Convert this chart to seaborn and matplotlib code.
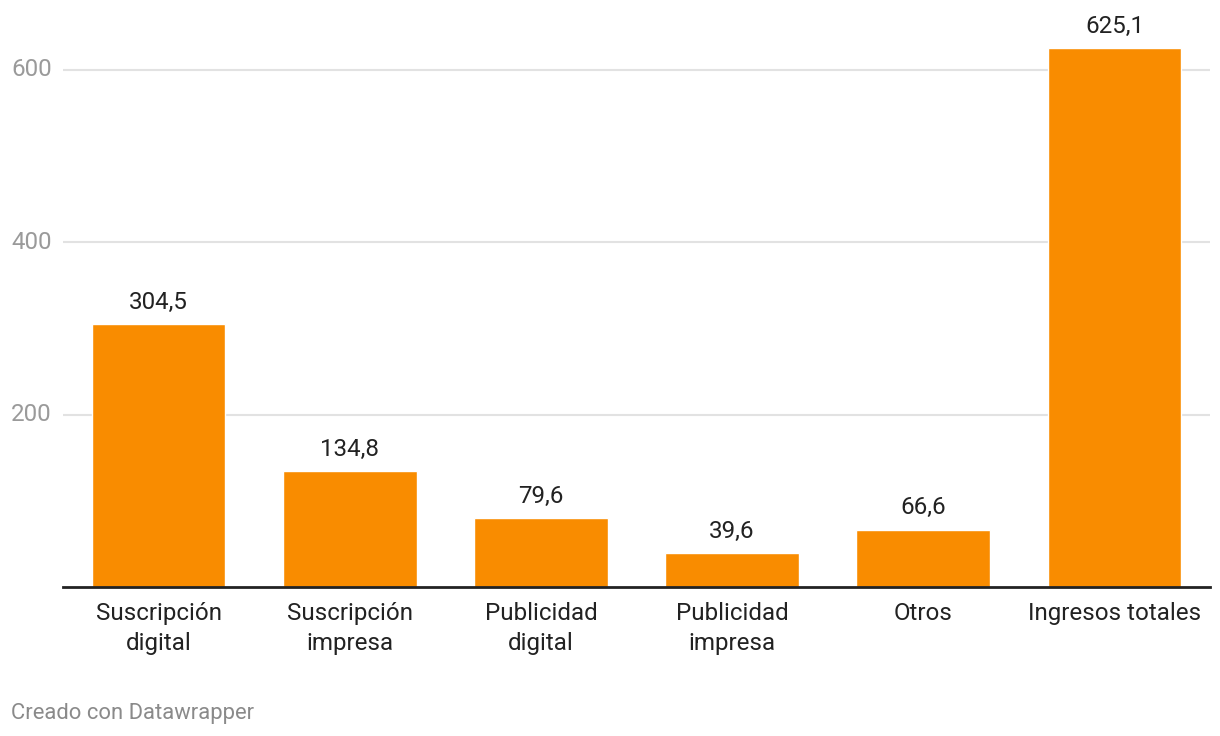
import matplotlib
matplotlib.use("Agg")
import matplotlib.pyplot as plt
import matplotlib.transforms as mtransforms
import seaborn as sns
import pandas as pd

categories = ["Suscripción\ndigital", "Suscripción\nimpresa", "Publicidad\ndigital",
              "Publicidad\nimpresa", "Otros", "Ingresos totales"]
values = [304.5, 134.8, 79.6, 39.6, 66.6, 625.1]
value_labels = ["304,5", "134,8", "79,6", "39,6", "66,6", "625,1"]
yticks = [200, 400, 600]
ytick_labels = ["200", "400", "600"]

sns.set_theme(style="white")
plt.rcParams['font.family'] = ['Roboto', 'DejaVu Sans']

W, H = 1220, 736
fig = plt.figure(figsize=(W / 100, H / 100), dpi=100)
ax = fig.add_axes([63 / W, (H - 587) / H, (1210 - 63) / W, 585 / H])

df = pd.DataFrame({"cat": categories, "val": values})
sns.barplot(data=df, x="cat", y="val", color="#F98C00", saturation=1, width=0.70, ax=ax, zorder=2)

ax.set_ylim(0, 678.5)
ax.set_xlim(-0.5, len(categories) - 0.5)
ax.set_xlabel("")
ax.set_ylabel("")
ax.set_yticks(yticks)
ax.set_yticklabels([])
ax.tick_params(axis='y', length=0)
ax.tick_params(axis='x', length=0, pad=11, labelsize=17.4, labelcolor="#222222")
for lbl in ax.get_xticklabels():
    lbl.set_linespacing(1.38)
for s in ["top", "right", "left"]:
    ax.spines[s].set_visible(False)
ax.spines["bottom"].set_color("#222222")
ax.spines["bottom"].set_linewidth(2)
ax.spines["bottom"].set_zorder(3)
ax.yaxis.grid(True, color="#e2e2e2", linewidth=1.5, zorder=0)
ax.set_axisbelow(True)

trans = mtransforms.blended_transform_factory(fig.transFigure, ax.transData)
for t, l in zip(yticks, ytick_labels):
    ax.text(11 / W, t, l, transform=trans, ha="left", va="center",
            fontsize=17.4, color="#9a9a9a")

for i, (v, l) in enumerate(zip(values, value_labels)):
    ax.annotate(l, (i, v), xytext=(0, 11), textcoords="offset points",
                ha="center", va="baseline", fontsize=17.4, color="#222222")

fig.text(11 / W, (H - 719) / H, "Creado con Datawrapper", ha="left", va="baseline",
         fontsize=15.8, color="#8a8a8a")

fig.savefig("out.png", dpi=100)
